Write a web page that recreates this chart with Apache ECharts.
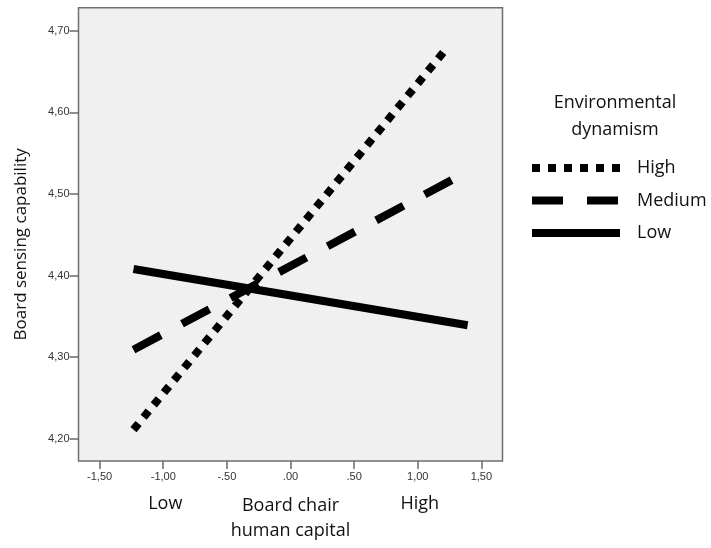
<!DOCTYPE html>
<html>
<head>
<meta charset="utf-8">
<script src="https://cdn.jsdelivr.net/npm/echarts@6/dist/echarts.min.js"></script>
<style>
html,body{margin:0;padding:0;background:#fff;}
#chart{width:711px;height:548px;}
</style>
</head>
<body>
<div id="chart"></div>
<script>
// ---- data ----
var seriesNames = ['High', 'Medium', 'Low'];
var highLine = [[-1.234, 4.211], [1.234, 4.680]];
var mediumLine = [[-1.234, 4.309], [1.266, 4.517]];
var lowLine = [[-1.234, 4.408], [1.392, 4.339]];
var xTickValues = [-1.5, -1.0, -0.5, 0.0, 0.5, 1.0, 1.5];
var xTickLabels = ['-1,50', '-1,00', '-.50', '.00', '.50', '1,00', '1,50'];
var yTickValues = [4.2, 4.3, 4.4, 4.5, 4.6, 4.7];
var yTickLabels = ['4,20', '4,30', '4,40', '4,50', '4,60', '4,70'];
var xRange = [-1.666, 1.666];
var yRange = [4.1725, 4.7285];
var xAxisTitle = 'Board chair\nhuman capital';
var yAxisTitle = 'Board sensing capability';
var legendTitle = 'Environmental\ndynamism';
var xEndLabels = [{ value: -1.0, text: 'Low' }, { value: 1.0, text: 'High' }];

function lookup(values, labels, v) {
  for (var i = 0; i < values.length; i++) {
    if (Math.abs(values[i] - v) < 1e-6) return labels[i];
  }
  return '';
}

var chart = echarts.init(document.getElementById('chart'), null, { renderer: 'canvas' });
var tickColor = '#6a6a6a';
var option = {
  animation: false,
  backgroundColor: '#ffffff',
  color: ['#000', '#000', '#000'],
  title: {
    text: legendTitle,
    left: 610,
    top: 84,
    textAlign: 'center',
    textStyle: { fontFamily: 'Open Sans', fontSize: 18, fontWeight: 'normal', color: '#111', lineHeight: 27 }
  },
  legend: {
    orient: 'vertical',
    left: 528,
    top: 159,
    padding: 0,
    itemWidth: 88,
    itemHeight: 10,
    itemGap: 14.5,
    data: seriesNames,
    itemStyle: { opacity: 0 },
    lineStyle: { width: 8 },
    textStyle: { fontFamily: 'Open Sans', fontSize: 18, lineHeight: 18, color: '#111', padding: [0, 0, 0, 12] }
  },
  grid: {
    show: true,
    left: 78.5,
    right: 208.5,
    top: 7.7,
    bottom: 80.5,
    backgroundColor: '#f0f0f0',
    borderColor: '#6e6e6e',
    borderWidth: 1.5
  },
  xAxis: {
    type: 'value',
    min: xRange[0],
    max: xRange[1],
    name: xAxisTitle,
    nameLocation: 'middle',
    nameGap: 32,
    nameTextStyle: { fontFamily: 'Open Sans', fontSize: 18, color: '#111', lineHeight: 25, verticalAlign: 'top' },
    axisLine: { show: false, onZero: false },
    splitLine: { show: false },
    axisTick: { show: true, length: 8, customValues: xTickValues, lineStyle: { color: tickColor, width: 1.5 } },
    axisLabel: {
      customValues: xTickValues,
      margin: 10,
      fontFamily: 'Liberation Sans',
      fontSize: 11,
      color: '#333',
      formatter: function (v) { return lookup(xTickValues, xTickLabels, v); }
    }
  },
  yAxis: {
    type: 'value',
    min: yRange[0],
    max: yRange[1],
    name: yAxisTitle,
    nameLocation: 'middle',
    nameGap: 49,
    nameTextStyle: { fontFamily: 'Open Sans', fontSize: 17, color: '#111', padding: [0, 20, 0, 0] },
    axisLine: { show: false, onZero: false },
    splitLine: { show: false },
    axisTick: { show: true, length: 9, customValues: yTickValues, lineStyle: { color: tickColor, width: 1.5 } },
    axisLabel: {
      customValues: yTickValues,
      margin: 9,
      fontFamily: 'Liberation Sans',
      fontSize: 11,
      color: '#333',
      formatter: function (v) { return lookup(yTickValues, yTickLabels, v); }
    }
  },
  series: [
    {
      name: seriesNames[0], type: 'line', data: highLine, symbol: 'none', silent: true,
      itemStyle: { color: '#000' },
      lineStyle: { color: '#000', width: 8, type: [8, 8], cap: 'butt' }
    },
    {
      name: seriesNames[1], type: 'line', data: mediumLine, symbol: 'none', silent: true,
      itemStyle: { color: '#000' },
      lineStyle: { color: '#000', width: 8, type: [31, 24], cap: 'butt' }
    },
    {
      name: seriesNames[2], type: 'line', data: lowLine, symbol: 'none', silent: true,
      itemStyle: { color: '#000' },
      lineStyle: { color: '#000', width: 8, type: 'solid', cap: 'butt' }
    }
  ]
};
chart.setOption(option);

// place "Low" / "High" under their axis values
var baseY = chart.convertToPixel({ gridIndex: 0 }, [0, yRange[0]])[1];
var graphics = xEndLabels.map(function (d) {
  var px = chart.convertToPixel({ xAxisIndex: 0 }, d.value);
  return {
    type: 'text',
    x: px + 2,
    y: baseY + 43,
    style: {
      text: d.text,
      fontFamily: 'Open Sans',
      fontSize: 18,
      fill: '#111',
      align: 'center',
      verticalAlign: 'middle'
    }
  };
});
chart.setOption({ graphic: graphics });
</script>
</body>
</html>
